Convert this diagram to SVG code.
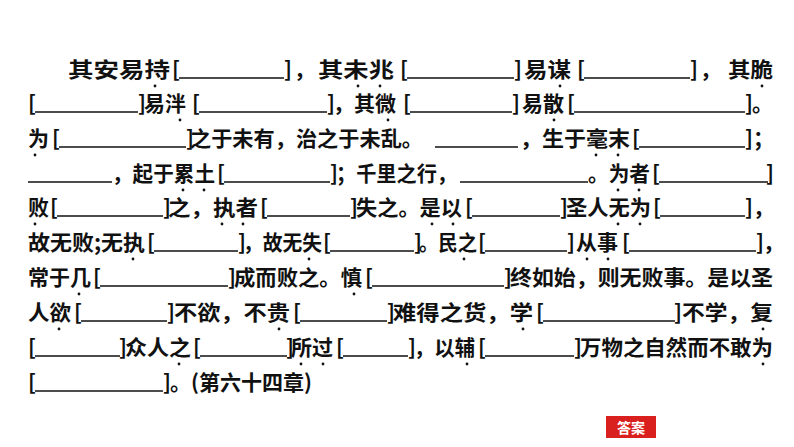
<svg xmlns="http://www.w3.org/2000/svg" width="794" height="447" viewBox="0 0 794 447">
<style>
text{font-family:"Noto Sans CJK SC","Liberation Serif",serif;font-size:21px;font-weight:bold;fill:#111;dominant-baseline:central}
.u{stroke:#111;stroke-width:1.3}
.d{fill:#111}
.btn{fill:#d9201e}
.bt{fill:#fff;font-size:14px}
</style>
<rect width="794" height="447" fill="#fff"/>
<defs>
<g id="dot"><circle r="1.4" class="d"/></g>
</defs>
<g id="text">
<!-- line 1 -->
<text x="68" y="68" textLength="102" lengthAdjust="spacingAndGlyphs">其安易持</text>
<text x="172" y="68">[</text><line class="u" x1="179" y1="78" x2="284" y2="78"/><text x="284" y="68">]</text>
<text x="294" y="68">，</text>
<text x="318" y="68" textLength="76" lengthAdjust="spacingAndGlyphs">其未兆</text>
<text x="400" y="68">[</text><line class="u" x1="407" y1="78" x2="514" y2="78"/><text x="514" y="68">]</text>
<text x="524" y="68" textLength="47" lengthAdjust="spacingAndGlyphs">易谋</text>
<text x="577" y="68">[</text><line class="u" x1="584" y1="78" x2="690" y2="78"/><text x="690" y="68">]</text>
<text x="700" y="68">，</text>
<text x="728" y="68" textLength="45" lengthAdjust="spacingAndGlyphs">其脆</text>
<!-- line 2 -->
<text x="28" y="102">[</text><line class="u" x1="35" y1="112" x2="138" y2="112"/><text x="138" y="102">]</text>
<text x="144" y="102">易泮</text>
<text x="192" y="102">[</text><line class="u" x1="199" y1="112" x2="327" y2="112"/><text x="327" y="102">]</text>
<text x="333" y="102">，其微</text>
<text x="403" y="102">[</text><line class="u" x1="410" y1="112" x2="512" y2="112"/><text x="512" y="102">]</text>
<text x="522" y="102">易散</text>
<text x="567" y="102">[</text><line class="u" x1="574" y1="112" x2="745" y2="112"/><text x="745" y="102">]</text>
<text x="752" y="102">。</text>
<!-- line 3 -->
<text x="28" y="137">为</text>
<text x="52" y="137">[</text><line class="u" x1="59" y1="147" x2="186" y2="147"/><text x="186" y="137">]</text>
<text x="190" y="137" textLength="233" lengthAdjust="spacingAndGlyphs">之于未有，治之于未乱。</text>
<line class="u" x1="435" y1="147" x2="518" y2="147"/>
<text x="520" y="137" textLength="110" lengthAdjust="spacingAndGlyphs">，生于毫末</text>
<text x="632" y="137">[</text><line class="u" x1="639" y1="147" x2="745" y2="147"/><text x="745" y="137">]</text>
<text x="753" y="137">；</text>
<!-- line 4 -->
<line class="u" x1="28" y1="182" x2="112" y2="182"/>
<text x="112" y="172" textLength="103" lengthAdjust="spacingAndGlyphs">，起于累土</text>
<text x="217" y="172">[</text><line class="u" x1="224" y1="182" x2="330" y2="182"/><text x="330" y="172">]</text>
<text x="336" y="172" textLength="121" lengthAdjust="spacingAndGlyphs">；千里之行，</text>
<line class="u" x1="460" y1="182" x2="588" y2="182"/>
<text x="588" y="172" textLength="62" lengthAdjust="spacingAndGlyphs">。为者</text>
<text x="652" y="172">[</text><line class="u" x1="659" y1="182" x2="768" y2="182"/><text x="766" y="172">]</text>
<!-- line 5 -->
<text x="28" y="206">败</text>
<text x="50" y="206">[</text><line class="u" x1="57" y1="216" x2="163" y2="216"/><text x="163" y="206">]</text>
<text x="168" y="206" textLength="90" lengthAdjust="spacingAndGlyphs">之，执者</text>
<text x="260" y="206">[</text><line class="u" x1="267" y1="216" x2="350" y2="216"/><text x="350" y="206">]</text>
<text x="356" y="206" textLength="106" lengthAdjust="spacingAndGlyphs">失之。是以</text>
<text x="465" y="206">[</text><line class="u" x1="472" y1="216" x2="560" y2="216"/><text x="560" y="206">]</text>
<text x="566" y="206" textLength="85" lengthAdjust="spacingAndGlyphs">圣人无为</text>
<text x="653" y="206">[</text><line class="u" x1="660" y1="216" x2="745" y2="216"/><text x="745" y="206">]</text>
<text x="753" y="206">，</text>
<!-- line 6 -->
<text x="28" y="241" textLength="117" lengthAdjust="spacingAndGlyphs">故无败;无执</text>
<text x="147" y="241">[</text><line class="u" x1="154" y1="251" x2="238" y2="251"/><text x="238" y="241">]</text>
<text x="243" y="241" textLength="79" lengthAdjust="spacingAndGlyphs">，故无失</text>
<text x="323" y="241">[</text><line class="u" x1="330" y1="251" x2="414" y2="251"/><text x="414" y="241">]</text>
<text x="419" y="241" textLength="58" lengthAdjust="spacingAndGlyphs">。民之</text>
<text x="478" y="241">[</text><line class="u" x1="485" y1="251" x2="567" y2="251"/><text x="567" y="241">]</text>
<text x="576" y="241">从事</text>
<text x="622" y="241">[</text><line class="u" x1="629" y1="251" x2="756" y2="251"/><text x="756" y="241">]</text>
<text x="763" y="241">，</text>
<!-- line 7 -->
<text x="28" y="276" textLength="63" lengthAdjust="spacingAndGlyphs">常于几</text>
<text x="93" y="276">[</text><line class="u" x1="100" y1="286" x2="228" y2="286"/><text x="228" y="276">]</text>
<text x="234" y="276" textLength="128" lengthAdjust="spacingAndGlyphs">成而败之。慎</text>
<text x="365" y="276">[</text><line class="u" x1="372" y1="286" x2="504" y2="286"/><text x="504" y="276">]</text>
<text x="510" y="276" textLength="263" lengthAdjust="spacingAndGlyphs">终如始，则无败事。是以圣</text>
<!-- line 8 -->
<text x="28" y="311" textLength="43" lengthAdjust="spacingAndGlyphs">人欲</text>
<text x="74" y="311">[</text><line class="u" x1="81" y1="321" x2="167" y2="321"/><text x="167" y="311">]</text>
<text x="174" y="311" textLength="116" lengthAdjust="spacingAndGlyphs">不欲，不贵</text>
<text x="293" y="311">[</text><line class="u" x1="300" y1="321" x2="387" y2="321"/><text x="387" y="311">]</text>
<text x="393" y="311" textLength="140" lengthAdjust="spacingAndGlyphs">难得之货，学</text>
<text x="536" y="311">[</text><line class="u" x1="543" y1="321" x2="675" y2="321"/><text x="674" y="311">]</text>
<text x="682" y="311" textLength="91" lengthAdjust="spacingAndGlyphs">不学，复</text>
<!-- line 9 -->
<text x="28" y="346">[</text><line class="u" x1="35" y1="356" x2="120" y2="356"/><text x="119" y="346">]</text>
<text x="125" y="346" textLength="66" lengthAdjust="spacingAndGlyphs">众人之</text>
<text x="193" y="346">[</text><line class="u" x1="200" y1="356" x2="287" y2="356"/><text x="286" y="346">]</text>
<text x="291" y="346">所过</text>
<text x="336" y="346">[</text><line class="u" x1="343" y1="356" x2="408" y2="356"/><text x="408" y="346">]</text>
<text x="414" y="346" textLength="61" lengthAdjust="spacingAndGlyphs">，以辅</text>
<text x="478" y="346">[</text><line class="u" x1="485" y1="356" x2="574" y2="356"/><text x="574" y="346">]</text>
<text x="580" y="346" textLength="193" lengthAdjust="spacingAndGlyphs">万物之自然而不敢为</text>
<!-- line 10 -->
<text x="28" y="381">[</text><line class="u" x1="35" y1="391" x2="163" y2="391"/><text x="163" y="381">]</text>
<text x="170" y="381" textLength="142" lengthAdjust="spacingAndGlyphs">。(第六十四章)</text>
</g>
<g id="dots">
<use href="#dot" x="155" y="86"/><use href="#dot" x="358" y="86"/><use href="#dot" x="380" y="86"/><use href="#dot" x="560" y="86"/><use href="#dot" x="762" y="86"/>
<use href="#dot" x="180" y="120"/><use href="#dot" x="388" y="120"/><use href="#dot" x="554" y="120"/>
<use href="#dot" x="35" y="155"/><use href="#dot" x="596" y="155"/><use href="#dot" x="618" y="155"/>
<use href="#dot" x="183" y="190"/><use href="#dot" x="204" y="190"/><use href="#dot" x="618" y="190"/><use href="#dot" x="639" y="190"/>
<use href="#dot" x="35" y="224"/><use href="#dot" x="222" y="224"/><use href="#dot" x="243" y="224"/><use href="#dot" x="432" y="224"/><use href="#dot" x="453" y="224"/><use href="#dot" x="618" y="224"/><use href="#dot" x="640" y="224"/>
<use href="#dot" x="133" y="259"/><use href="#dot" x="309" y="259"/><use href="#dot" x="464" y="259"/><use href="#dot" x="587" y="259"/><use href="#dot" x="608" y="259"/>
<use href="#dot" x="79" y="294"/><use href="#dot" x="354" y="294"/>
<use href="#dot" x="59" y="329"/><use href="#dot" x="279" y="329"/><use href="#dot" x="523" y="329"/><use href="#dot" x="763" y="329"/>
<use href="#dot" x="179" y="364"/><use href="#dot" x="301" y="364"/><use href="#dot" x="323" y="364"/><use href="#dot" x="467" y="364"/><use href="#dot" x="763" y="364"/>
</g>
<g id="answer">
<rect class="btn" x="606" y="416" width="50" height="22"/>
<text class="bt" x="631" y="427" text-anchor="middle">答案</text>
</g>
</svg>
